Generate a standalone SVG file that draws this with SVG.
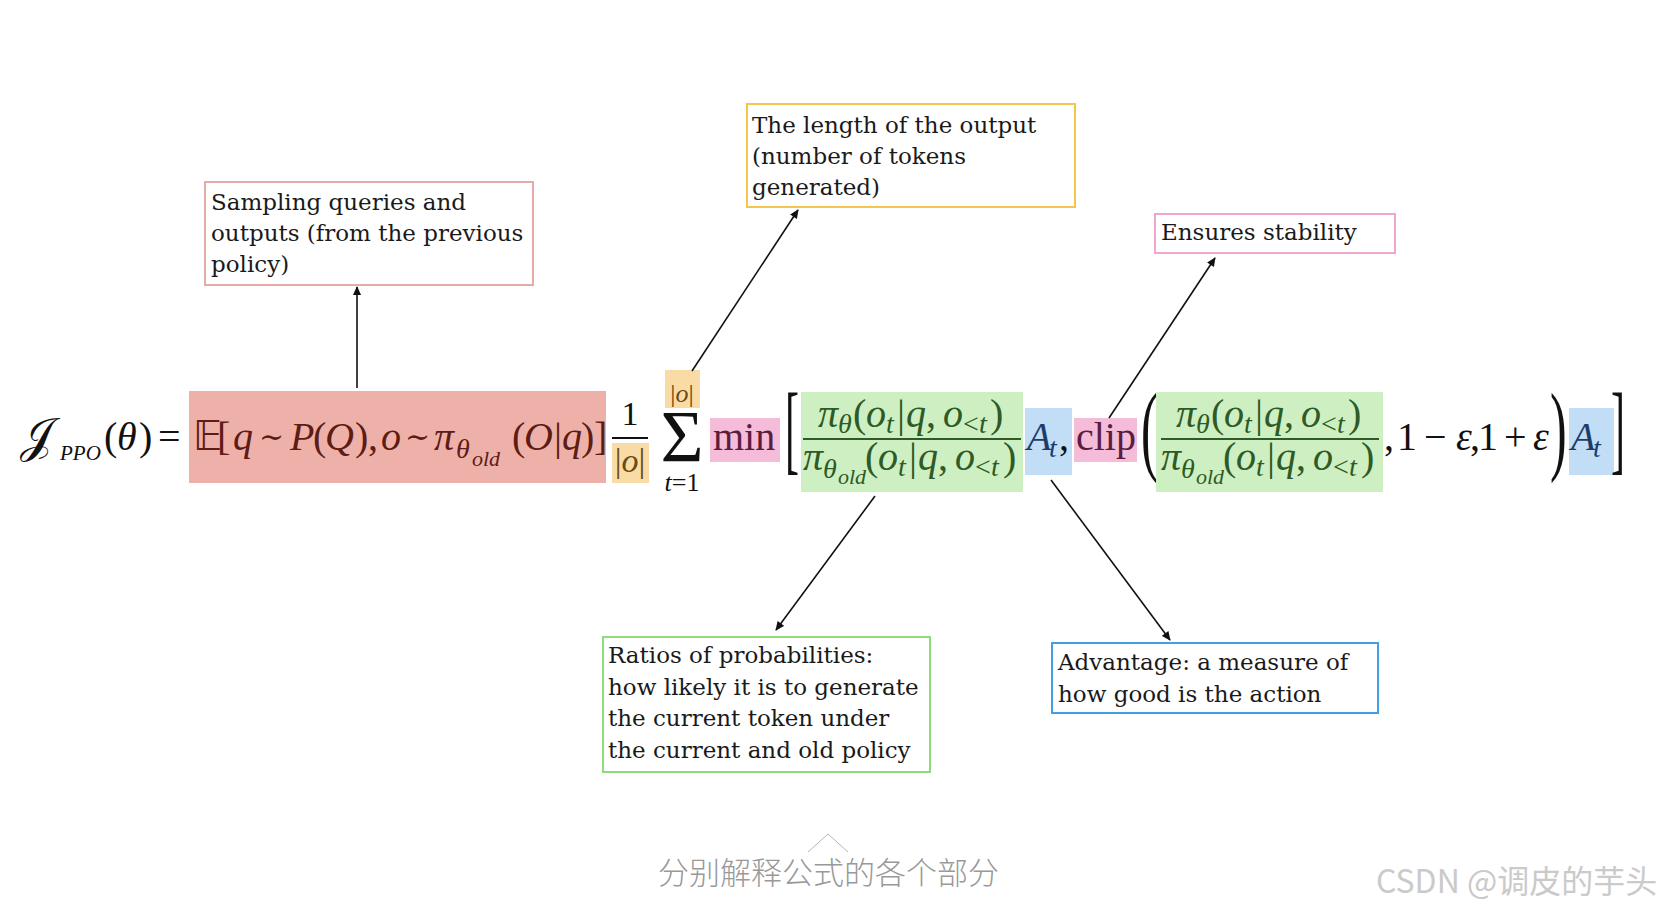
<svg xmlns="http://www.w3.org/2000/svg" width="1664" height="908" viewBox="0 0 1664 908">
<style>
.m{font-family:'Liberation Serif','DejaVu Serif',serif;font-size:40px;fill:#111}
.i{font-style:italic}
.s{font-size:28px}
.ss{font-size:22px}
.til{font-size:30px}
.red{fill:#5e1c14}
.org{fill:#6a4b12}
.pnk{fill:#5a1d3e}
.grn{fill:#2d5a26}
.blu{fill:#1d3c6a}
.ann{font-family:'DejaVu Serif','Liberation Serif',serif;font-size:23px;fill:#1a1a1a}
.frame{fill:#fff;stroke-width:2}
.conn{stroke:#111;stroke-width:1.6;fill:none;marker-end:url(#ah)}
.cap{font-family:'Noto Sans CJK SC',sans-serif}
</style>
<defs>
<marker id="ah" viewBox="0 0 10 10" refX="9" refY="5" markerWidth="10" markerHeight="9" orient="auto" markerUnits="userSpaceOnUse"><path d="M0,0.5 L10,5 L0,9.5 z" fill="#111"/></marker>
</defs>
<rect width="1664" height="908" fill="#fff"/>

<g id="lhs">
<text class="m"><tspan x="20" y="452" style="font-family:'DejaVu Serif','DejaVu Sans',serif;font-size:48px">𝒥</tspan><tspan x="60" y="460" class="i" style="font-size:21px">PPO</tspan><tspan x="104" y="450">(</tspan><tspan x="117" y="450" class="i">θ</tspan><tspan x="139" y="450">)</tspan><tspan x="158" y="450">=</tspan></text>
</g>

<g id="term-expectation">
<rect x="189" y="391" width="417" height="92" fill="#eeb1a9"/>
<text class="m red"><tspan x="193" y="450" style="font-family:'DejaVu Sans','DejaVu Serif',sans-serif">𝔼</tspan><tspan x="217" y="450">[</tspan><tspan x="233" y="450" class="i">q</tspan><tspan x="259" y="447" class="til">∼</tspan><tspan x="290" y="450" class="i">P</tspan><tspan x="313" y="450">(</tspan><tspan x="325" y="450" class="i">Q</tspan><tspan x="355" y="450">)</tspan><tspan x="368" y="450">,</tspan><tspan x="381" y="450" class="i">o</tspan><tspan x="405" y="447" class="til">∼</tspan><tspan x="434" y="450" class="i">π</tspan><tspan x="456" y="458" class="i s">θ</tspan><tspan x="472" y="466" class="i ss">old</tspan><tspan x="512" y="450">(</tspan><tspan x="524" y="450" class="i">O</tspan><tspan x="554" y="450">|</tspan><tspan x="562" y="450" class="i">q</tspan><tspan x="581" y="450">)</tspan><tspan x="594" y="450">]</tspan></text>
</g>

<g id="term-length">
<text class="m" style="font-size:34px" x="630" y="425" text-anchor="middle">1</text>
<line x1="612" y1="438" x2="648" y2="438" stroke="#111" stroke-width="2"/>
<rect x="612" y="443" width="37" height="40" fill="#f9dba6"/>
<text class="m org" style="font-size:34px" x="630" y="472" text-anchor="middle">|<tspan class="i">o</tspan>|</text>
<rect x="665" y="370" width="35" height="38" fill="#f9dba6"/>
<text class="m org" style="font-size:26px" x="682" y="402" text-anchor="middle">|<tspan class="i">o</tspan>|</text>
<text class="m" style="font-size:74px" x="682" y="462" text-anchor="middle">Σ</text>
<text class="m" style="font-size:26px" x="682" y="491" text-anchor="middle"><tspan class="i">t</tspan>=1</text>
</g>

<g id="term-min">
<rect x="710" y="418" width="70" height="44" fill="#f5bcd9"/>
<text class="m pnk" x="713" y="450">min</text>
</g>

<text class="m" style="font-size:100px" transform="translate(785,462) scale(0.42,1)">[</text>

<g id="term-ratio">
<rect x="801" y="392" width="222" height="100" fill="#cdefc1"/>
<g id="ratio-frac">
<text class="m grn"><tspan x="818" y="427" class="i">π</tspan><tspan x="838" y="433" class="i s">θ</tspan><tspan x="853" y="427">(</tspan><tspan x="866" y="427" class="i">o</tspan><tspan x="886" y="433" class="i s">t</tspan><tspan x="897" y="427">|</tspan><tspan x="906" y="427" class="i">q</tspan><tspan x="926" y="427">,</tspan><tspan x="943" y="427" class="i">o</tspan><tspan x="963" y="433" class="s">&lt;</tspan><tspan x="979" y="433" class="i s">t</tspan><tspan x="990" y="427">)</tspan></text>
<line x1="803" y1="439" x2="1021" y2="439" stroke="#2d5a26" stroke-width="2"/>
<text class="m grn"><tspan x="803" y="470" class="i">π</tspan><tspan x="823" y="478" class="i s">θ</tspan><tspan x="838" y="484" class="i ss">old</tspan><tspan x="865" y="470">(</tspan><tspan x="878" y="470" class="i">o</tspan><tspan x="898" y="476" class="i s">t</tspan><tspan x="909" y="470">|</tspan><tspan x="918" y="470" class="i">q</tspan><tspan x="938" y="470">,</tspan><tspan x="955" y="470" class="i">o</tspan><tspan x="975" y="476" class="s">&lt;</tspan><tspan x="991" y="476" class="i s">t</tspan><tspan x="1003" y="470">)</tspan></text>
</g>
</g>

<g id="term-adv1">
<rect x="1025" y="408" width="47" height="67" fill="#c2ddf6"/>
<text class="m blu"><tspan x="1027" y="450" class="i">A</tspan><tspan x="1049" y="457" class="i s">t</tspan></text>
<text class="m" x="1059" y="450">,</text>
</g>

<g id="term-clip">
<rect x="1074" y="418" width="63" height="44" fill="#f5bcd9"/>
<text class="m pnk" x="1076" y="450">clip</text>
</g>

<text class="m" style="font-size:100px" transform="translate(1141,462) scale(0.5,1)">(</text>

<g id="term-ratio2">
<rect x="1156" y="392" width="227" height="100" fill="#cdefc1"/>
<g transform="translate(358,0)">
<text class="m grn"><tspan x="818" y="427" class="i">π</tspan><tspan x="838" y="433" class="i s">θ</tspan><tspan x="853" y="427">(</tspan><tspan x="866" y="427" class="i">o</tspan><tspan x="886" y="433" class="i s">t</tspan><tspan x="897" y="427">|</tspan><tspan x="906" y="427" class="i">q</tspan><tspan x="926" y="427">,</tspan><tspan x="943" y="427" class="i">o</tspan><tspan x="963" y="433" class="s">&lt;</tspan><tspan x="979" y="433" class="i s">t</tspan><tspan x="990" y="427">)</tspan></text>
<line x1="803" y1="439" x2="1021" y2="439" stroke="#2d5a26" stroke-width="2"/>
<text class="m grn"><tspan x="803" y="470" class="i">π</tspan><tspan x="823" y="478" class="i s">θ</tspan><tspan x="838" y="484" class="i ss">old</tspan><tspan x="865" y="470">(</tspan><tspan x="878" y="470" class="i">o</tspan><tspan x="898" y="476" class="i s">t</tspan><tspan x="909" y="470">|</tspan><tspan x="918" y="470" class="i">q</tspan><tspan x="938" y="470">,</tspan><tspan x="955" y="470" class="i">o</tspan><tspan x="975" y="476" class="s">&lt;</tspan><tspan x="991" y="476" class="i s">t</tspan><tspan x="1003" y="470">)</tspan></text>
</g>
</g>

<text class="m"><tspan x="1384" y="450">,</tspan><tspan x="1397" y="450">1</tspan><tspan x="1424" y="450">−</tspan><tspan x="1456" y="450" class="i">ε</tspan><tspan x="1470" y="450">,</tspan><tspan x="1478" y="450">1</tspan><tspan x="1504" y="450">+</tspan><tspan x="1533" y="450" class="i">ε</tspan></text>

<text class="m" style="font-size:100px" transform="translate(1550,462) scale(0.5,1)">)</text>

<g id="term-adv2">
<rect x="1569" y="408" width="45" height="67" fill="#c2ddf6"/>
<text class="m blu"><tspan x="1571" y="450" class="i">A</tspan><tspan x="1593" y="457" class="i s">t</tspan></text>
</g>

<text class="m" style="font-size:100px" transform="translate(1611,462) scale(0.42,1)">]</text>

<g id="note-sampling">
<rect class="frame" x="205" y="182" width="328" height="103" stroke="#e8aaa6"/>
<text class="ann"><tspan x="211" y="210">Sampling queries and</tspan><tspan x="211" y="241">outputs (from the previous</tspan><tspan x="211" y="272">policy)</tspan></text>
</g>

<g id="note-length">
<rect class="frame" x="747" y="104" width="328" height="103" stroke="#f3c54c"/>
<text class="ann"><tspan x="752" y="133">The length of the output</tspan><tspan x="752" y="164">(number of tokens</tspan><tspan x="752" y="195">generated)</tspan></text>
</g>

<g id="note-stability">
<rect class="frame" x="1155" y="214" width="240" height="39" stroke="#f0a6cf"/>
<text class="ann" x="1161" y="240">Ensures stability</text>
</g>

<g id="note-ratio">
<rect class="frame" x="603" y="637" width="327" height="135" stroke="#8fdb7b"/>
<text class="ann"><tspan x="608" y="663">Ratios of probabilities:</tspan><tspan x="608" y="695">how likely it is to generate</tspan><tspan x="608" y="726">the current token under</tspan><tspan x="608" y="758">the current and old policy</tspan></text>
</g>

<g id="note-advantage">
<rect class="frame" x="1052" y="643" width="326" height="70" stroke="#3fa0e6"/>
<text class="ann"><tspan x="1058" y="670">Advantage: a measure of</tspan><tspan x="1058" y="702">how good is the action</tspan></text>
</g>

<g id="connectors">
<path class="conn" d="M357,388 L357,287"/>
<path class="conn" d="M692,371 L798,210"/>
<path class="conn" d="M1109,418 L1215,258"/>
<path class="conn" d="M875,496 L776,630"/>
<path class="conn" d="M1051,480 L1170,640"/>
</g>

<polyline points="808,852 828,834 848,852" fill="none" stroke="#b5b5b5" stroke-width="1"/>
<text class="cap" x="658" y="884" style="font-size:31px;fill:#999999;font-weight:300">分别解释公式的各个部分</text>
<text class="cap" x="1376" y="893" style="font-size:32px;fill:#cacaca">CSDN @调皮的芋头</text>
</svg>
